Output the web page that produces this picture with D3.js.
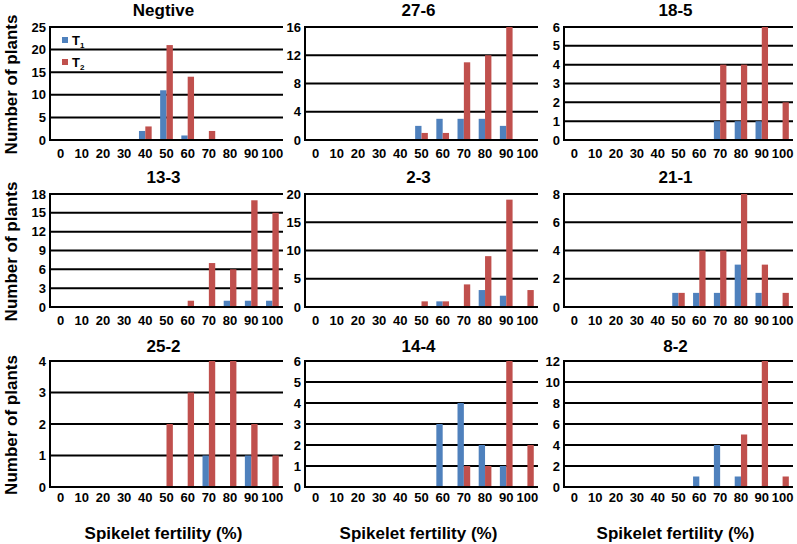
<!DOCTYPE html>
<html><head><meta charset="utf-8">
<script src="https://cdn.jsdelivr.net/npm/d3@7"></script>
<style>body{margin:0;background:#fff}svg{display:block}text{font-family:Arial,"Liberation Sans",sans-serif;font-weight:bold;fill:#000}</style>
</head><body><svg id="c" width="797" height="544"></svg>
<script>
const categories = ["0","10","20","30","40","50","60","70","80","90","100"];
const panelTitles = ["Negtive","27-6","18-5","13-3","2-3","21-1","25-2","14-4","8-2"];
const seriesNames = ["T1","T2"];
const t1Values = [
  [0,0,0,0,2,11,1,0,0,0,0],
  [0,0,0,0,0,2,3,3,3,2,0],
  [0,0,0,0,0,0,0,1,1,1,0],
  [0,0,0,0,0,0,0,0,1,1,1],
  [0,0,0,0,0,0,1,0,3,2,0],
  [0,0,0,0,0,1,1,1,3,1,0],
  [0,0,0,0,0,0,0,1,0,1,0],
  [0,0,0,0,0,0,3,4,2,1,0],
  [0,0,0,0,0,0,1,4,1,0,0]
];
const t2Values = [
  [0,0,0,0,3,21,14,2,0,0,0],
  [0,0,0,0,0,1,1,11,12,16,0],
  [0,0,0,0,0,0,0,4,4,6,2],
  [0,0,0,0,0,0,1,7,6,17,15],
  [0,0,0,0,0,1,1,4,9,19,3],
  [0,0,0,0,0,1,4,4,8,3,1],
  [0,0,0,0,0,2,3,4,4,2,1],
  [0,0,0,0,0,0,0,1,1,6,2],
  [0,0,0,0,0,0,0,0,5,12,1]
];
const yTickValues = [
  [0,5,10,15,20,25],
  [0,4,8,12,16],
  [0,1,2,3,4,5,6],
  [0,3,6,9,12,15,18],
  [0,5,10,15,20],
  [0,2,4,6,8],
  [0,1,2,3,4],
  [0,1,2,3,4,5,6],
  [0,2,4,6,8,10,12]
];
const yAxisTitle = "Number of plants";
const xAxisTitle = "Spikelet fertility (%)";
const colors = ["#4F81BD","#C0504D"];

const cols = [[50,283],[305,538],[564,793]];
const rows = [[27,140],[194,307],[361,487]];
const titleY = [10,177,346];
const tickLabelY = [153,320,497];

const svg = d3.select("#c");

panelTitles.forEach((title,i)=>{
  const r = Math.floor(i/3), c = i%3;
  const [x0,x1] = cols[c], [y0,y1] = rows[r];
  const ticks = yTickValues[i];
  const x = d3.scaleBand().domain(categories).range([x0,x1]).paddingInner(0.4).paddingOuter(0.2);
  const xs = d3.scaleBand().domain(categories).range([x0,x1]);
  const xi = d3.scaleBand().domain(seriesNames).range([0,x.bandwidth()]);
  const y = d3.scaleLinear().domain([0,d3.max(ticks)]).range([y1,y0]);
  const g = svg.append("g");

  g.selectAll("line.grid").data(ticks).join("line")
    .attr("x1",x0).attr("x2",x1).attr("y1",d=>y(d)).attr("y2",d=>y(d))
    .attr("stroke","#000").attr("stroke-width",2);
  const data = categories.map((cat,k)=>({cat, vals:[t1Values[i][k],t2Values[i][k]]}));
  data.forEach(d=>{
    d.vals.forEach((v,s)=>{
      if(v>0) g.append("rect")
        .attr("x",x(d.cat)+xi(seriesNames[s])).attr("width",xi.bandwidth())
        .attr("y",y(v)).attr("height",y(0)-y(v)).attr("fill",colors[s]);
    });
  });
  g.append("line").attr("x1",x0).attr("x2",x0).attr("y1",y0-1).attr("y2",y1+1).attr("stroke","#000").attr("stroke-width",2);
  g.append("line").attr("x1",x0-1).attr("x2",x1).attr("y1",y1).attr("y2",y1).attr("stroke","#000").attr("stroke-width",2);
  g.selectAll("text.yt").data(ticks).join("text")
    .attr("x",x0-4).attr("y",d=>y(d)).attr("dy","0.35em").attr("text-anchor","end")
    .attr("font-size",13).text(d=>d);
  g.selectAll("text.xt").data(categories).join("text")
    .attr("x",d=>xs(d)+xs.bandwidth()/2).attr("y",tickLabelY[r]).attr("dy","0.35em").attr("text-anchor","middle")
    .attr("font-size",13).text(d=>d);
  g.append("text").attr("x",(x0+x1)/2-3).attr("y",titleY[r]).attr("dy","0.35em").attr("text-anchor","middle")
    .attr("font-size",17).text(title);
});

rows.forEach(([y0,y1])=>{
  svg.append("text").attr("transform",`translate(11,${(y0+y1)/2+1}) rotate(-90)`)
    .attr("text-anchor","middle").attr("dy","0.35em").attr("font-size",17).text(yAxisTitle);
});
cols.forEach(([x0,x1])=>{
  svg.append("text").attr("x",(x0+x1)/2-3).attr("y",533).attr("dy","0.35em").attr("text-anchor","middle")
    .attr("font-size",17).text(xAxisTitle);
});

const lg = svg.append("g");
seriesNames.forEach((s,k)=>{
  const ly = 40 + k*22;
  lg.append("rect").attr("x",62).attr("y",ly-3).attr("width",6).attr("height",6).attr("fill",colors[k]);
  const t = lg.append("text").attr("x",72).attr("y",ly).attr("dy","0.35em").attr("font-size",13);
  t.append("tspan").text(s.charAt(0));
  t.append("tspan").attr("font-size",8).attr("dy","0.45em").text(s.slice(1));
});
</script></body></html>
